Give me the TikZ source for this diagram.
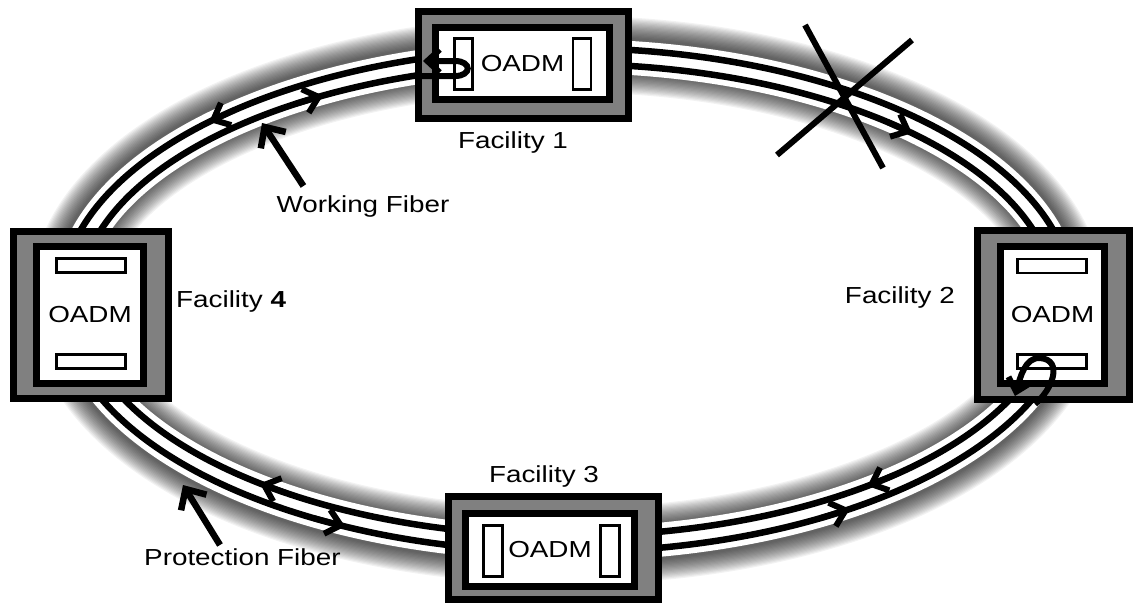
\documentclass[tikz,border=0pt]{standalone}
\usepackage{fontspec}
\setmainfont{Liberation Sans}[FakeStretch=1.2]
\usepackage{tikz}
\usetikzlibrary{arrows.meta, calc}

\newcommand\pxu{0.02cm}

\begin{document}
\begin{tikzpicture}[x=0.02cm, y=-0.02cm,
  font=\fontsize{13.2}{15}\selectfont,
  facbox/.style={draw, line width=7*\pxu, fill=black!50, inner sep=0pt},
  oadmbox/.style={draw, line width=7*\pxu, fill=white, inner sep=0pt},
  port/.style={draw, line width=2.2*\pxu, fill=white, inner sep=0pt},
  fiber/.style={line width=6.5*\pxu},
  fibertip/.style={line width=6*\pxu, -{Straight Barb[length=8pt, width=14pt]}},
  pointer/.style={line width=6.5*\pxu, -{Straight Barb[length=9pt, width=17pt]}},
  loopline/.style={line width=6*\pxu, -{Straight Barb[length=7pt, width=13pt]}},
  cutmark/.style={line width=6*\pxu}]
\useasboundingbox (0,0) rectangle (1134,606);
\coordinate (C) at (567,300);

% ring: shadow, white band, two fibers
\foreach \i in {0,...,17}
  \draw[black, opacity=0.05, line width={(36+2.4*\i)*\pxu}] (C) ellipse [x radius=499, y radius=246];
\draw[white, line width=34*\pxu] (C) ellipse [x radius=497, y radius=244];
\draw[fiber] (C) ellipse [x radius=506, y radius=252];
\draw[fiber] (C) ellipse [x radius=488, y radius=236];

% direction marks on the fibers
\begin{scope}[shift={(C)}]
  \foreach \a/\b in {229/225, 120/116, 60/56}
    \draw[fibertip] (\a:506 and 252) -- (\b:506 and 252);
  \foreach \a/\b in {236/240, 311/315, 48/52, 125/129}
    \draw[fibertip] (\a:488 and 236) -- (\b:488 and 236);
\end{scope}

% Facility 1
\node[facbox, minimum width=210*\pxu, minimum height=107*\pxu] (f1) at (523.5,65) {};
\node[oadmbox, minimum width=174*\pxu, minimum height=72*\pxu] (o1) at (522.5,63.5) {OADM};
\node[port, minimum width=18*\pxu, minimum height=51*\pxu] (p1a) at (463.5,64) {};
\node[port, minimum width=18*\pxu, minimum height=51*\pxu] (p1b) at (582,64) {};
\node[anchor=base] (lbl1) at (513,148) {Facility 1};

% Facility 2
\node[facbox, minimum width=152*\pxu, minimum height=169*\pxu] (f2) at (1053.5,315) {};
\node[oadmbox, minimum width=104*\pxu, minimum height=137*\pxu] (o2) at (1052.5,315) {OADM};
\node[port, minimum width=69*\pxu, minimum height=14*\pxu] (p2a) at (1052,266) {};
\node[port, minimum width=69*\pxu, minimum height=14*\pxu] (p2b) at (1052,361.5) {};
\node[anchor=base east] (lbl2) at (961,303) {Facility 2};

% Facility 3
\node[facbox, minimum width=210*\pxu, minimum height=103*\pxu] (f3) at (553.5,548) {};
\node[oadmbox, minimum width=169*\pxu, minimum height=73*\pxu] (o3) at (550,550) {OADM};
\node[port, minimum width=19*\pxu, minimum height=51*\pxu] (p3a) at (493,551) {};
\node[port, minimum width=19*\pxu, minimum height=51*\pxu] (p3b) at (610,551) {};
\node[anchor=base] (lbl3) at (544,482) {Facility 3};

% Facility 4
\node[facbox, minimum width=155*\pxu, minimum height=167*\pxu] (f4) at (91,315) {};
\node[oadmbox, minimum width=107*\pxu, minimum height=137*\pxu] (o4) at (90,315) {OADM};
\node[port, minimum width=69*\pxu, minimum height=14*\pxu] (p4a) at (91,265.5) {};
\node[port, minimum width=69*\pxu, minimum height=14*\pxu] (p4b) at (91,361.5) {};
\node[anchor=base west] (lbl4) at (170,307) {Facility \textbf{4}};

% loop-backs
\coordinate (lp1in) at (415,76);
\coordinate (lp1out) at (423,61);
\draw[loopline] (lp1in) -- (455,76) .. controls (472,76) and (472,61) .. (455,61) -- (lp1out);
\coordinate (lp2in) at (1035,404);
\coordinate (lp2out) at (1015,396);
\draw[loopline] (lp2in) .. controls (1052,390) and (1064,360) .. (1040,358)
  .. controls (1025,357) and (1020,378) .. (lp2out);

% fiber cut
\draw[cutmark] (805,25) -- (883,168);
\draw[cutmark] (912,40) -- (777,155);

% labels with pointers
\node[anchor=base] (wlbl) at (363,212) {Working Fiber};
\coordinate (wtip) at (262,123);
\draw[pointer] ($(wlbl.north west)+(33,-3)$) -- (wtip);
\node[anchor=base west] (plbl) at (138,565) {Protection Fiber};
\coordinate (ptip) at (183,485);
\draw[pointer] ($(plbl.north west)+(82,3)$) -- (ptip);
\end{tikzpicture}
\end{document}
